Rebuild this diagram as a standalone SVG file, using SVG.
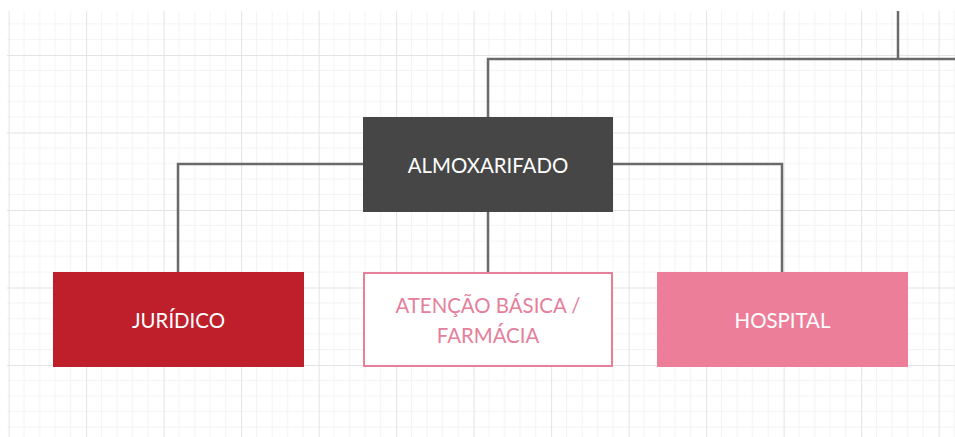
<svg xmlns="http://www.w3.org/2000/svg" width="955" height="437" viewBox="0 0 955 437">
  <defs>
    <pattern id="grid" patternUnits="userSpaceOnUse" x="8.6" y="-22.5" width="77.5" height="77.5">
      <path d="M15.5 0V77.5M31 0V77.5M46.5 0V77.5M62 0V77.5M0 15.5H77.5M0 31H77.5M0 46.5H77.5M0 62H77.5" stroke="#f3f3f3" stroke-width="1" fill="none"/>
      <path d="M0.5 0V77.5M0 0.5H77.5" stroke="#e3e3e3" stroke-width="1" fill="none"/>
    </pattern>
    <style>
      .lbl { font-family: Lato, "Open Sans", "Liberation Sans", sans-serif; font-size: 20.4px; text-anchor: middle; }
      .conn { stroke: #6a6a6a; stroke-width: 2.5; fill: none; }
    </style>
  </defs>
  <rect width="955" height="437" fill="#ffffff"/>
  <rect x="7" y="11" width="948" height="426" fill="url(#grid)"/>
  <g id="connectors">
    <path class="conn" d="M898 11V59"/>
    <path class="conn" d="M955 59H488V117"/>
    <path class="conn" d="M363 164H178V272"/>
    <path class="conn" d="M613 164H782V272"/>
    <path class="conn" d="M488 212V272"/>
  </g>
  <g id="almoxarifado">
    <rect x="363" y="117" width="250" height="95" fill="#464646"/>
    <text class="lbl" x="488" y="173" fill="#ffffff">ALMOXARIFADO</text>
  </g>
  <g id="juridico">
    <rect x="53" y="272" width="251" height="95" fill="#be1f2b"/>
    <text class="lbl" x="178.5" y="328" fill="#ffffff">JURÍDICO</text>
  </g>
  <g id="atencao">
    <rect x="364" y="273" width="248" height="93" fill="#ffffff" stroke="#e5809b" stroke-width="2"/>
    <text class="lbl" x="488" y="313" fill="#e5809b">ATENÇÃO BÁSICA /</text>
    <text class="lbl" x="488" y="343" fill="#e5809b">FARMÁCIA</text>
  </g>
  <g id="hospital">
    <rect x="657" y="272" width="251" height="95" fill="#ec7e9a"/>
    <text class="lbl" x="782.5" y="328" fill="#ffffff">HOSPITAL</text>
  </g>
</svg>
